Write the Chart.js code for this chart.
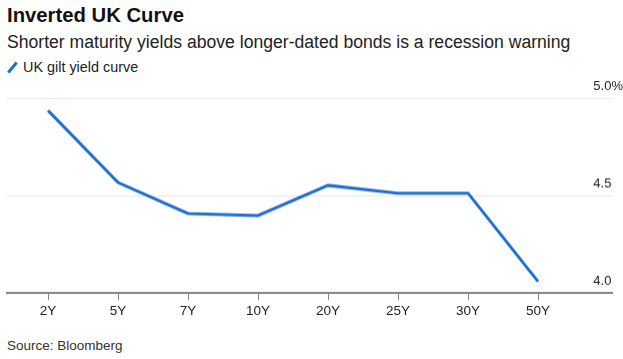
<!DOCTYPE html>
<html>
<head>
<meta charset="utf-8">
<script src="https://cdn.jsdelivr.net/npm/chart.js@4"></script>
<style>
    html, body {
        margin: 0;
        padding: 0;
        background: #fff;
        width: 623px;
        height: 359px;
        overflow: hidden;
        font-family: "Liberation Sans", Arial, sans-serif;
        color: #222;
    }
    #title {
        position: absolute;
        left: 7px;
        top: 4px;
        font-size: 20.3px;
        font-weight: bold;
        color: #111;
    }
    #subtitle {
        position: absolute;
        left: 7px;
        top: 32px;
        font-size: 17.6px;
        color: #222;
    }
    #legend {
        position: absolute;
        left: 7px;
        top: 59px;
        font-size: 14.4px;
        color: #222;
    }
    #legend .swatch {
        display: inline-block;
        width: 3px;
        height: 13px;
        background: #1f6fd0;
        transform: rotate(40deg);
        margin: 0 9px 0 4px;
        vertical-align: -2px;
    }
    #source {
        position: absolute;
        left: 7px;
        top: 338px;
        font-size: 13.5px;
        color: #333;
    }
    #wrap {
        position: absolute;
        left: 0;
        top: 80px;
        width: 623px;
        height: 241.5px;
    }
</style>
</head>
<body>
<div id="title">Inverted UK Curve</div>
<div id="subtitle">Shorter maturity yields above longer-dated bonds is a recession warning</div>
<div id="legend"><span class="swatch"></span>UK gilt yield curve</div>
<div id="wrap"><canvas id="chart"></canvas></div>
<div id="source">Source: Bloomberg</div>

<script>
// Maturities along the curve
const maturities = ["2Y", "5Y", "7Y", "10Y", "20Y", "25Y", "30Y", "50Y"];

// Gilt yields (%)
const yields = [4.94, 4.57, 4.41, 4.40, 4.555, 4.515, 4.515, 4.06];

// Y axis tick values
const yTicks = [4.0, 4.5, 5.0];

const lineColor = "#1f6fd0";

const points = maturities.map((m, i) => ({ x: i, y: yields[i] }));

const ctx = document.getElementById("chart").getContext("2d");
new Chart(ctx, {
    type: "line",
    data: {
        datasets: [
            {
                label: "UK gilt yield curve",
                data: points,
                borderColor: lineColor,
                borderWidth: 3,
                pointRadius: 0,
                tension: 0,
                fill: false,
            },
        ],
    },
    options: {
        responsive: true,
        maintainAspectRatio: false,
        animation: false,
        layout: {
            padding: { left: 7, right: -11, top: 6, bottom: 0 },
        },
        scales: {
            x: {
                type: "linear",
                min: -0.586,
                max: 8.057,
                afterBuildTicks: (axis) => {
                    axis.ticks = maturities.map((m, i) => ({ value: i }));
                },
                grid: {
                    drawOnChartArea: false,
                    drawTicks: true,
                    tickLength: 7,
                    tickColor: "#888",
                    tickWidth: 1,
                },
                border: {
                    display: true,
                    color: "#888",
                    width: 2,
                },
                ticks: {
                    autoSkip: false,
                    maxRotation: 0,
                    padding: 3,
                    color: "#222",
                    font: { family: "'Liberation Sans', Arial, sans-serif", size: 13.5 },
                    callback: (value) => maturities[value],
                },
            },
            y: {
                position: "right",
                min: 4.0,
                max: 5.0,
                afterBuildTicks: (axis) => {
                    axis.ticks = yTicks.map((v) => ({ value: v }));
                },
                grid: {
                    color: "#e6e6e6",
                    lineWidth: 1,
                    drawTicks: false,
                },
                border: { display: false },
                ticks: {
                    mirror: true,
                    crossAlign: "far",
                    padding: 11,
                    labelOffset: -12,
                    color: "#222",
                    font: { family: "'Liberation Sans', Arial, sans-serif", size: 13 },
                    callback: (value) => value === 5 ? "5.0%" : value.toFixed(1),
                },
            },
        },
        plugins: {
            legend: { display: false },
            tooltip: { enabled: false },
        },
    },
});
</script>
</body>
</html>
